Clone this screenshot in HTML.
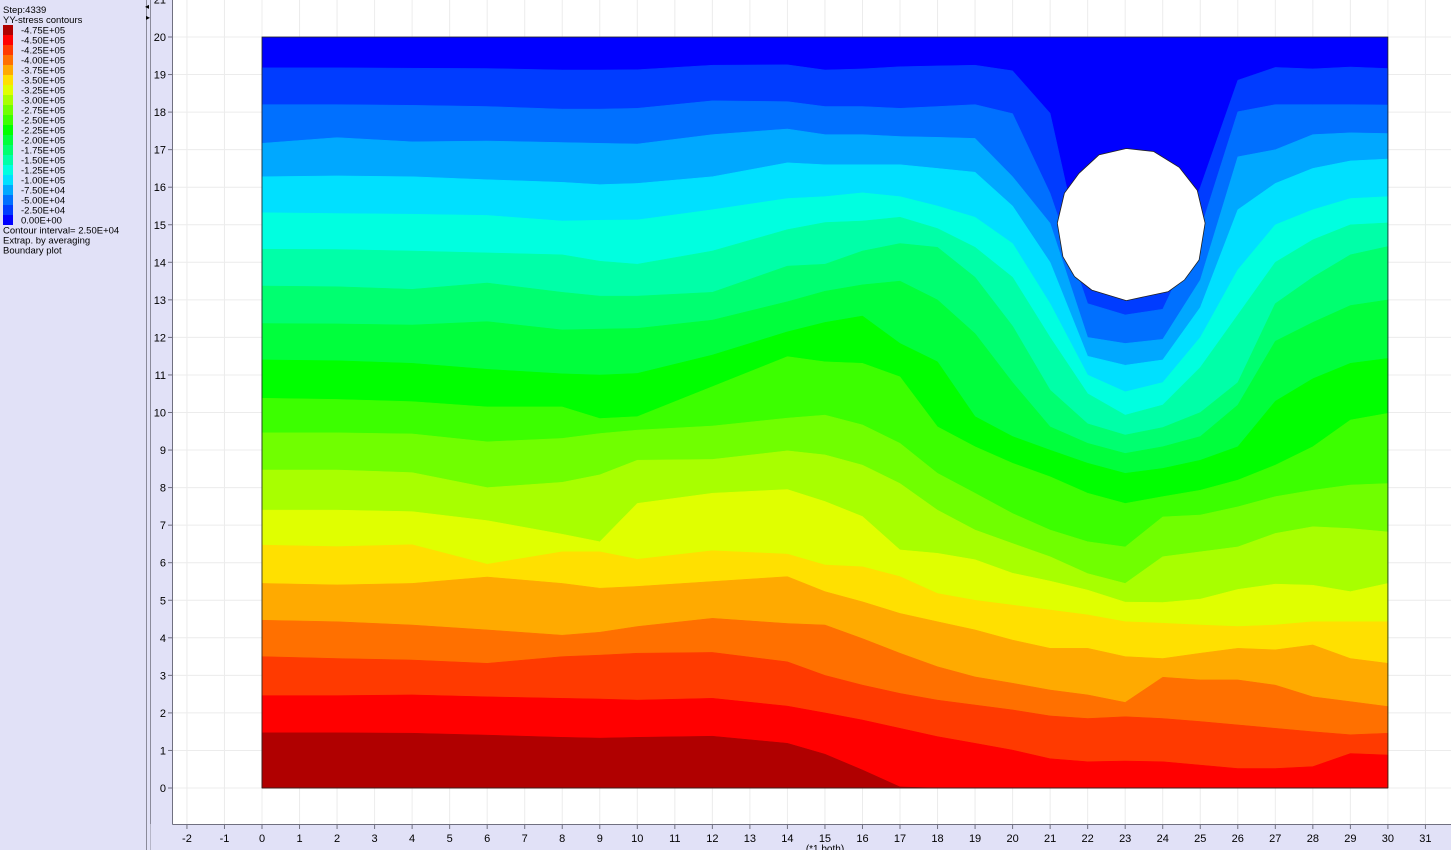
<!DOCTYPE html>
<html><head><meta charset="utf-8"><style>
html,body{margin:0;padding:0;background:#e1e1f7;width:1451px;height:850px;overflow:hidden}
svg{display:block;font-family:"Liberation Sans",sans-serif}
</style></head><body>
<svg id="chart" width="1451" height="850" viewBox="0 0 1451 850">
  <rect x="0" y="0" width="1451" height="850" fill="#e1e1f7"/>
  <g id="legend-panel"></g>
  <line x1="146.5" y1="0" x2="146.5" y2="850" stroke="#8a8a9a"/>
  <line x1="150.5" y1="0" x2="150.5" y2="850" stroke="#8a8a9a"/>
  <text x="145" y="9" font-size="8" fill="#000">◂</text>
  <text x="146" y="20" font-size="8" fill="#000">▸</text>
  <rect x="173" y="0" width="1278" height="824" fill="#fff"/>
  <g id="grid"></g>
  <g id="bands"></g>
  <g id="axes"></g>
</svg>
<script>
const NS = "http://www.w3.org/2000/svg";
const xs = [0,2,4,6,8,9,10,12,14,15,16,17,18,19,20,21,22,23,24,25,26,27,28,29,30];
const boundary01 = [1.47,1.47,1.46,1.41,1.35,1.33,1.35,1.38,1.19,0.9,0.48,0.03,0,0,0,0,0,0,0,0,0,0,0,0,0];
const boundary02 = [2.46,2.46,2.48,2.43,2.39,2.37,2.34,2.39,2.18,2.0,1.81,1.59,1.37,1.19,1.01,0.78,0.70,0.72,0.70,0.61,0.52,0.52,0.57,0.92,0.88];
const boundary03 = [3.50,3.45,3.41,3.32,3.50,3.54,3.59,3.61,3.36,3.0,2.74,2.52,2.34,2.21,2.08,1.92,1.85,1.90,1.85,1.77,1.68,1.59,1.50,1.42,1.46];
const boundary04 = [4.47,4.43,4.34,4.21,4.07,4.15,4.30,4.52,4.38,4.34,3.98,3.59,3.23,2.96,2.79,2.61,2.48,2.28,2.95,2.88,2.88,2.74,2.43,2.30,2.17];
const boundary05 = [5.45,5.41,5.45,5.62,5.45,5.32,5.37,5.50,5.63,5.23,4.96,4.65,4.43,4.21,3.94,3.72,3.72,3.50,3.45,3.59,3.72,3.68,3.81,3.45,3.32];
const boundary06 = [6.47,6.43,6.48,5.96,6.29,6.29,6.09,6.32,6.23,5.94,5.89,5.63,5.18,5.0,4.87,4.74,4.61,4.43,4.39,4.34,4.30,4.34,4.43,4.43,4.43];
const boundary07 = [7.40,7.40,7.36,7.12,6.76,6.56,7.58,7.85,7.95,7.63,7.23,6.34,6.25,6.08,5.72,5.51,5.27,4.95,4.94,5.03,5.29,5.43,5.40,5.23,5.45];
const boundary08 = [8.47,8.47,8.40,8.00,8.14,8.34,8.73,8.75,8.98,8.87,8.60,8.11,7.40,6.87,6.51,6.16,5.71,5.45,6.16,6.29,6.42,6.78,6.96,6.91,6.82];
const boundary09 = [9.46,9.46,9.43,9.22,9.31,9.44,9.53,9.64,9.85,9.93,9.67,9.18,8.38,7.85,7.31,6.87,6.56,6.42,7.22,7.27,7.49,7.76,7.93,8.07,8.11];
const boundary10 = [10.38,10.35,10.29,10.15,10.15,9.84,9.89,10.69,11.49,11.35,11.31,10.95,9.62,9.09,8.65,8.29,7.85,7.58,7.76,7.93,8.20,8.60,9.09,9.80,9.98];
const boundary11 = [11.40,11.38,11.31,11.15,11.03,11.0,11.04,11.53,12.15,12.40,12.57,11.84,11.35,9.89,9.36,9.0,8.65,8.38,8.51,8.73,9.09,10.3,10.9,11.31,11.44];
const boundary12 = [12.37,12.36,12.33,12.42,12.2,12.22,12.24,12.46,12.95,13.23,13.4,13.5,13.0,12.1,10.8,9.62,9.18,8.91,9.09,9.36,10.2,11.9,12.4,12.85,13.0];
const boundary13 = [13.37,13.35,13.28,13.45,13.2,13.1,13.1,13.2,13.9,13.95,14.3,14.5,14.4,13.6,12.3,10.6,9.7,9.4,9.6,10.0,10.8,12.9,13.6,14.2,14.42];
const boundary14 = [14.35,14.34,14.3,14.25,14.2,14.03,13.95,14.3,14.87,15.06,15.1,15.2,14.9,14.4,13.6,12.0,10.5,9.93,10.2,11.2,12.6,14.0,14.6,15.0,15.05];
const boundary15 = [15.32,15.3,15.28,15.25,15.1,15.12,15.13,15.4,15.7,15.75,15.85,15.75,15.5,15.2,14.5,12.9,11.0,10.55,10.8,12.0,13.8,15.0,15.4,15.7,15.75];
const boundary16 = [16.28,16.3,16.28,16.2,16.13,16.07,16.1,16.28,16.65,16.6,16.6,16.6,16.5,16.4,15.5,14.0,11.5,11.26,11.4,12.8,15.4,16.1,16.5,16.7,16.75];
const boundary17 = [17.17,17.32,17.21,17.23,17.19,17.17,17.15,17.4,17.55,17.4,17.4,17.35,17.33,17.3,16.28,15.04,12.0,11.84,11.95,13.53,16.81,17.0,17.4,17.45,17.43];
const boundary18 = [18.2,18.2,18.18,18.15,18.08,18.08,18.1,18.3,18.28,18.15,18.15,18.1,18.15,18.2,17.96,15.84,12.9,12.6,12.75,14.86,18.01,18.2,18.2,18.2,18.19];
const boundary19 = [19.18,19.18,19.17,19.16,19.12,19.12,19.13,19.25,19.26,19.12,19.15,19.21,19.23,19.25,19.1,17.97,13.5,13.5,13.5,16.0,18.85,19.19,19.15,19.2,19.16];
const levelLabels = ["-4.75E+05","-4.50E+05","-4.25E+05","-4.00E+05","-3.75E+05","-3.50E+05","-3.25E+05","-3.00E+05","-2.75E+05","-2.50E+05","-2.25E+05","-2.00E+05","-1.75E+05","-1.50E+05","-1.25E+05","-1.00E+05","-7.50E+04","-5.00E+04","-2.50E+04"," 0.00E+00"];
const bandColors = ["#b00000","#ff0000","#ff3a00","#ff7000","#ffaa00","#ffe000","#e0ff00","#a8ff00","#70ff00","#3cff00","#00ff00","#00ff3c","#00ff70","#00ffa8","#00ffe0","#00e0ff","#00a8ff","#0070ff","#003cff","#0000ff"];
const holeX = [23.03,23.76,24.44,24.92,25.13,24.97,24.58,24.15,23.03,22.11,21.65,21.34,21.19,21.38,21.77,22.30];
const holeY = [17.03,16.95,16.53,15.92,15.04,14.06,13.53,13.22,12.98,13.26,13.62,14.15,15.04,15.84,16.37,16.86];
const xTicks = [-2,-1,0,1,2,3,4,5,6,7,8,9,10,11,12,13,14,15,16,17,18,19,20,21,22,23,24,25,26,27,28,29,30,31];
const yTicks = [0,1,2,3,4,5,6,7,8,9,10,11,12,13,14,15,16,17,18,19,20,21];
const boundaries = [boundary01,boundary02,boundary03,boundary04,boundary05,boundary06,boundary07,boundary08,boundary09,boundary10,boundary11,boundary12,boundary13,boundary14,boundary15,boundary16,boundary17,boundary18,boundary19];

const sx = x => 262 + x * 37.53;
const sy = y => 788 - y * 37.55;
function mk(tag, attrs, parent){ const e=document.createElementNS(NS,tag); for(const k in attrs) e.setAttribute(k,attrs[k]); parent.appendChild(e); return e; }

// grid
const gridG = document.getElementById('grid');
xTicks.forEach(t => {
  const l = mk('line',{x1:sx(t),x2:sx(t),y1:0,y2:824,stroke:'#ececec','stroke-width':1},gridG);
  
  
});
yTicks.forEach(t => {
  const l = mk('line',{x1:173,x2:1451,y1:sy(t),y2:sy(t),stroke:'#ececec','stroke-width':1},gridG);
  
  
});

// bands
const bandsG = document.getElementById('bands');
const topBand = mk('rect',{x:sx(0),y:sy(20),width:sx(30)-sx(0),height:sy(0)-sy(20),fill:bandColors[19]},bandsG);


for (let k = boundaries.length - 1; k >= 0; k--) {
  const b = boundaries[k];
  let pts = xs.map((x,i) => sx(x).toFixed(1)+','+sy(b[i]).toFixed(1));
  pts.push(sx(30).toFixed(1)+','+sy(0).toFixed(1));
  pts.push(sx(0).toFixed(1)+','+sy(0).toFixed(1));
  const p = mk('polygon',{points:pts.join(' '),fill:bandColors[k],stroke:bandColors[k],'stroke-width':0.5},bandsG);
  
  
}
const hole = mk('polygon',{points:holeX.map((x,i)=>sx(x).toFixed(1)+','+sy(holeY[i]).toFixed(1)).join(' '),fill:'#fff',stroke:'#222','stroke-width':0.8},bandsG);


const outline = mk('rect',{x:sx(0),y:sy(20),width:sx(30)-sx(0),height:sy(0)-sy(20),fill:'none',stroke:'#222','stroke-width':0.8},bandsG);



// axes
const axesG = document.getElementById('axes');
mk('rect',{x:150.5,y:824,width:1301,height:26,fill:'#e1e1f7'},axesG);
mk('rect',{x:151,y:0,width:22,height:824,fill:'#e1e1f7'},axesG);
const xa = mk('line',{x1:172.5,x2:1451,y1:824.5,y2:824.5,stroke:'#707080'},axesG);


const ya = mk('line',{x1:172.5,x2:172.5,y1:0,y2:824.5,stroke:'#707080'},axesG);


xTicks.forEach(t => {
  mk('line',{x1:sx(t),x2:sx(t),y1:825,y2:829,stroke:'#707080'},axesG);
  const tx = mk('text',{x:sx(t),y:842,'font-size':11,'text-anchor':'middle',fill:'#000'},axesG);
  tx.textContent = t;
  
  
});
yTicks.forEach(t => {
  mk('line',{x1:168,x2:172,y1:sy(t),y2:sy(t),stroke:'#707080'},axesG);
  const ty = mk('text',{x:166,y:sy(t)+4,'font-size':11,'text-anchor':'end',fill:'#000'},axesG);
  ty.textContent = t;
  
  
});
const xt = mk('text',{x:825,y:852,'font-size':10,'text-anchor':'middle',fill:'#000'},axesG);
xt.textContent = '(*1 both)';



// legend
const lg = document.getElementById('legend-panel');
function lt(txt, y, x, name){
  const t = mk('text',{x:x,y:y,'font-size':9.5,fill:'#000'},lg);
  t.textContent = txt;
  
  
}
lt('Step:4339', 13, 3, 'step-label');
lt('YY-stress contours', 23, 3, 'legend-title');
levelLabels.forEach((lab,i) => {
  const r = mk('rect',{x:3,y:25+i*10,width:10,height:10,fill:bandColors[i]},lg);
  
  
  lt(lab, 33.5+i*10, 21, 'legend-entry');
});
lt('Contour interval=  2.50E+04', 233.5, 3, 'contour-interval');
lt('Extrap. by averaging', 243.5, 3, 'extrapolation-note');
lt('Boundary plot', 253.5, 3, 'boundary-plot-note');
</script>
</body></html>
